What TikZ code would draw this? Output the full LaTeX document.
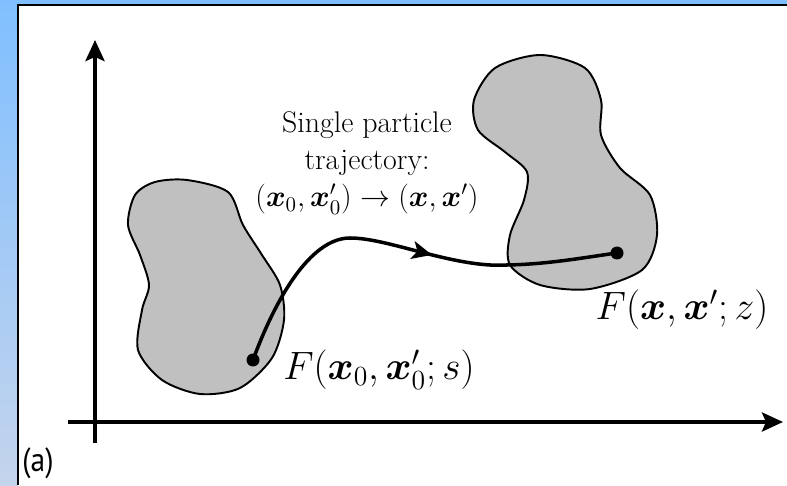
\RequirePackage{fix-cm}
\documentclass[tikz,border=0pt]{standalone}
\usepackage{amsmath}
\usepackage{fontspec}
\newfontfamily\panelfont[FakeStretch=0.88]{PT Sans}
\definecolor{blobgray}{RGB}{192,192,192}
\definecolor{frametop}{RGB}{128,191,255}
\definecolor{framebot}{RGB}{196,212,236}
\usetikzlibrary{arrows.meta,decorations.markings}
\tikzset{
    axis/.style={
        line width=2.3pt, -{Stealth[length=4.2mm,width=3.8mm,inset=0.8mm]}
    },
    blob/.style={
        draw=black, line width=1.1pt, fill=blobgray
    },
    dot/.style={
        circle, fill=black, inner sep=0pt, minimum size=2.6mm
    },
    traj/.style={
        line width=2pt, postaction={decorate},
        decoration={markings, mark=at position #1 with
            {\arrow{Stealth[length=4mm,width=3.6mm,inset=1mm]}}}
    },
    traj/.default=0.57
}

\begin{document}
\begin{tikzpicture}[every node/.style={align=center}]
    \useasboundingbox (0,0) rectangle (15.74,9.7);
    \shade[top color=frametop, bottom color=framebot] (0,0) rectangle (0.36,9.7);
    \fill[frametop] (0.36,9.6) rectangle (15.74,9.7);
    \fill[white] (0.36,0) rectangle (15.74,9.6);
    \draw[line width=1.1pt] (0.36,0) -- (0.36,9.6) -- (15.74,9.6);

    \draw[blob] plot[smooth cycle] coordinates {
        (3.74,6.10) (4.56,5.86) (4.86,5.20) (5.24,4.60) (5.60,4.00) (5.68,3.30)
        (5.44,2.54) (4.80,1.94) (4.00,1.82) (3.24,2.10) (2.76,2.70) (2.84,3.50)
        (2.98,4.00) (2.80,4.60) (2.56,5.20) (2.70,5.80) (3.10,6.06)};
    \draw[blob] plot[smooth cycle] coordinates {
        (10.80,8.60) (11.70,8.34) (12.02,7.70) (12.02,7.00) (12.40,6.34) (13.00,5.80)
        (13.14,5.00) (12.84,4.30) (11.80,3.92) (10.80,4.00) (10.20,4.40) (10.20,5.00)
        (10.48,5.70) (10.54,6.26) (10.10,6.66) (9.56,7.10) (9.48,7.70) (9.90,8.34)};

    \draw[axis] (1.9,0.84) -- (1.9,8.9);
    \draw[axis] (1.36,1.26) -- (15.66,1.26);

    \node[dot] (start) at (5.06,2.50) {};
    \node[dot] (end) at (12.34,4.64) {};
    \draw[traj] (start.center) .. controls (5.5,3.7) and (6.2,4.94) .. (7.0,4.94)
        .. controls (7.7,4.94) and (8.8,4.46) .. (9.8,4.4)
        .. controls (10.8,4.38) and (11.6,4.54) .. (end.center);

    \node[font=\fontsize{17}{21}\selectfont] (label) at (7.34,6.44)
        {Single particle\\trajectory:\\
         $(\boldsymbol{x}_0,\boldsymbol{x}_0')\rightarrow(\boldsymbol{x},\boldsymbol{x}')$};
    \node[font=\fontsize{22.5}{26}\selectfont] (fstart) at (7.58,2.30)
        {$F(\boldsymbol{x}_0,\boldsymbol{x}_0';s)$};
    \node[font=\fontsize{22.5}{26}\selectfont] (fend) at (13.64,3.50)
        {$F(\boldsymbol{x},\boldsymbol{x}';z)$};
    \node[font=\panelfont\fontsize{19}{22}\selectfont] (panel) at (0.76,0.44) {(a)};
\end{tikzpicture}
\end{document}
